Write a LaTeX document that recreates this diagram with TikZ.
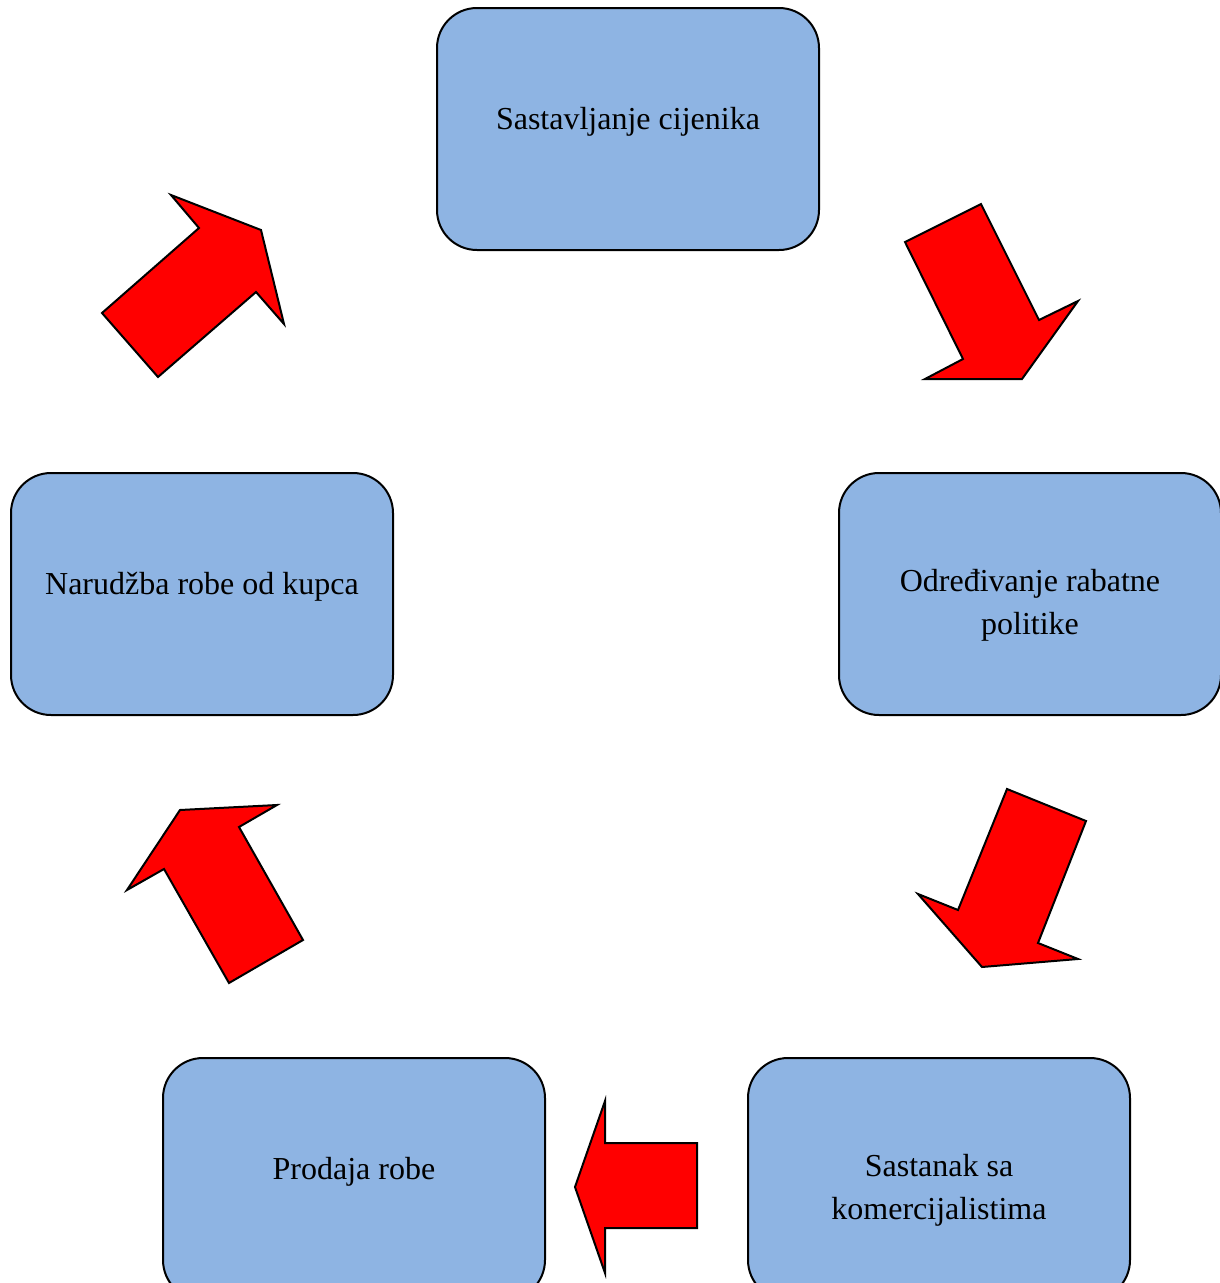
\documentclass[tikz,border=0pt]{standalone}
\usepackage{fontspec}
\setmainfont{Liberation Serif}
\usepackage{xcolor}
\usepackage{tikz}
\definecolor{boxblue}{RGB}{142,180,227}

\begin{document}
\begin{tikzpicture}[x=0.375pt,y=-0.375pt,line width=0.75pt,
		box/.style={draw,fill=boxblue,rounded corners=15pt,minimum width=143.25pt,minimum height=90.75pt,align=center,font=\fontsize{12}{16}\selectfont},
		oneline/.style={box,text height=8.3pt,text depth=7.8pt},
		twoline/.style={box,text height=32.8pt},
		bigarrow/.style={draw,fill=red,line join=miter}]
			\useasboundingbox (0,0) rectangle (1220,1283);
			\node[oneline] (cijenik) at (628,129) {Sastavljanje cijenika};
			\node[twoline] (rabat) at (1030,594) {Određivanje rabatne\\politike};
			\node[oneline] (narudzba) at (202,594) {Narudžba robe od kupca};
			\node[twoline] (sastanak) at (939,1179) {Sastanak sa\\komercijalistima};
			\node[oneline] (prodaja) at (354,1179) {Prodaja robe};
			% strelice
			\draw[bigarrow] (981,204) -- (1039,320) -- (1078,301) -- (1022,379) -- (925,379) -- (963,359) -- (905,242) -- cycle;
			\draw[bigarrow] (1007,789) -- (1086,821) -- (1038,943) -- (1078,959) -- (982,967) -- (918,894) -- (958,910) -- cycle;
			\draw[bigarrow] (605,1101) -- (605,1143) -- (697,1143) -- (697,1228) -- (605,1228) -- (605,1273) -- (575,1187) -- cycle;
			\draw[bigarrow] (180,810) -- (277,805) -- (239,827) -- (303,940) -- (229,983) -- (164,869) -- (127,890) -- cycle;
			\draw[bigarrow] (171,195) -- (261,230) -- (284,324) -- (256,292) -- (158,377) -- (102,313) -- (199,228) -- cycle;
		\end{tikzpicture}
\end{document}
